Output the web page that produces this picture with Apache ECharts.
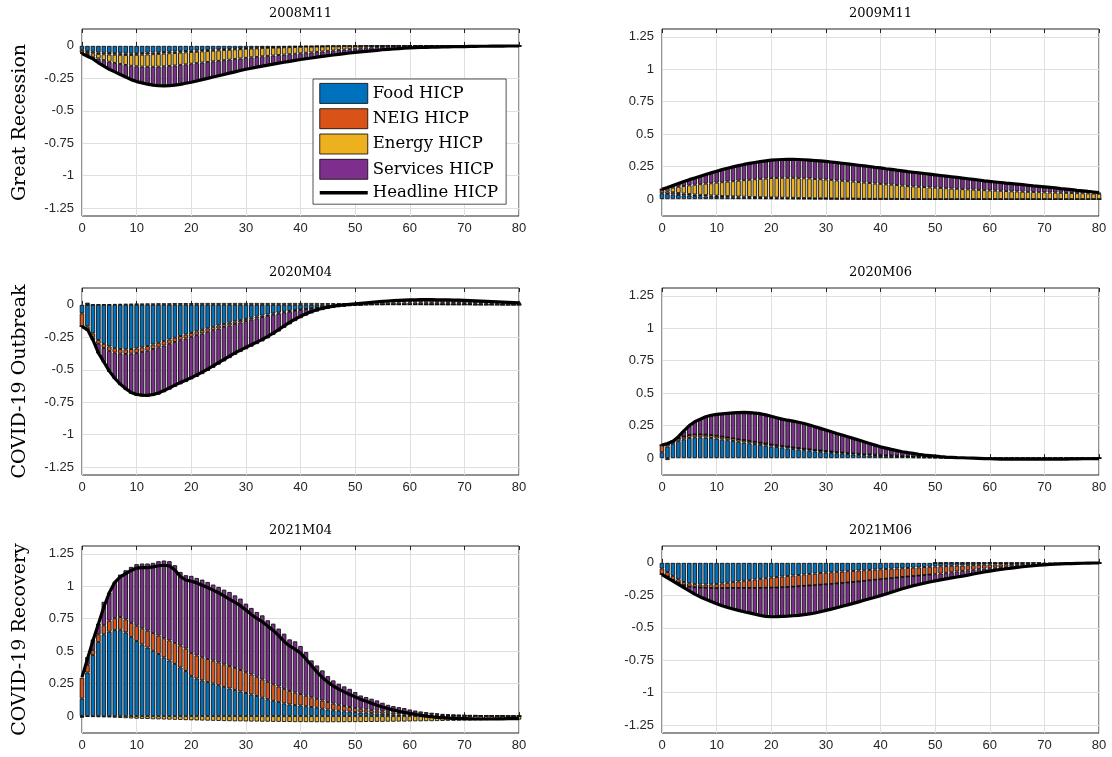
<!DOCTYPE html>
<html>
<head>
<meta charset="utf-8">
<script src="https://cdn.jsdelivr.net/npm/echarts@6/dist/echarts.min.js"></script>
<style>html,body{margin:0;padding:0;background:#fff;}#chart{width:1112px;height:757px;}</style>
</head>
<body>
<div id="chart"></div>
<script>
// ---------- categories / labels ----------
const HORIZONS = Array.from({length: 81}, (_, i) => i);
const PANEL_TITLES = ['2008M11', '2009M11', '2020M04', '2020M06', '2021M04', '2021M06'];
const ROW_LABELS = ['Great Recession', 'COVID-19 Outbreak', 'COVID-19 Recovery'];
const SERIES_NAMES = ['Food HICP', 'NEIG HICP', 'Energy HICP', 'Services HICP', 'Headline HICP'];
const Y_TICKS_NEG = [-1.25, -1, -0.75, -0.5, -0.25, 0];
const Y_TICKS_POS = [0, 0.25, 0.5, 0.75, 1, 1.25];

// ---------- 2008M11 ----------
const food_2008M11 = [
-0.03,-0.04,-0.045,-0.05,-0.053,-0.055,-0.056,-0.057,-0.057,-0.057,
-0.056,-0.055,-0.053,-0.051,-0.049,-0.047,-0.045,-0.043,-0.041,-0.039,
-0.037,-0.035,-0.033,-0.031,-0.029,-0.027,-0.025,-0.023,-0.021,-0.019,
-0.017,-0.015,-0.014,-0.012,-0.011,-0.01,-0.009,-0.008,-0.007,-0.006,
-0.005,-0.004,-0.004,-0.003,-0.003,-0.002,-0.002,-0.002,-0.001,-0.001,
-0.001,-0.001,0,0,0,0,0,0,0,0,
0,0,0,0,0,0,0,0,0,0,
0,0,0,0,0,0,0,0,0,0,
0];
const neig_2008M11 = [
-0.02,-0.015,-0.013,-0.012,-0.012,-0.012,-0.012,-0.012,-0.013,-0.013,
-0.013,-0.013,-0.013,-0.013,-0.013,-0.012,-0.012,-0.012,-0.011,-0.011,
-0.01,-0.01,-0.009,-0.009,-0.008,-0.008,-0.007,-0.007,-0.006,-0.006,
-0.005,-0.005,-0.005,-0.004,-0.004,-0.004,-0.003,-0.003,-0.003,-0.003,
-0.002,-0.002,-0.002,-0.002,-0.002,-0.001,-0.001,-0.001,-0.001,-0.001,
-0.001,0,0,0,0,0,0,0,0,0,
0,0,0,0,0,0,0,0,0,0,
0,0,0,0,0,0,0,0,0,0,
0];
const energy_2008M11 = [
-0.005,-0.015,-0.025,-0.035,-0.045,-0.055,-0.063,-0.07,-0.077,-0.083,
-0.088,-0.092,-0.095,-0.097,-0.098,-0.098,-0.097,-0.096,-0.094,-0.092,
-0.09,-0.088,-0.086,-0.084,-0.082,-0.08,-0.078,-0.076,-0.074,-0.072,
-0.07,-0.068,-0.066,-0.064,-0.062,-0.06,-0.058,-0.056,-0.054,-0.052,
-0.05,-0.047,-0.044,-0.041,-0.038,-0.035,-0.032,-0.029,-0.026,-0.023,
-0.02,-0.017,-0.014,-0.011,-0.008,-0.005,-0.003,-0.001,0.001,0.002,
0.002,0.002,0.002,0.002,0.001,0.001,0.001,0.001,0.001,0,
0,0,0,0,0,0,0,0,0,0,
0];
const services_2008M11 = [
-0.005,-0.01,-0.017,-0.033,-0.045,-0.058,-0.069,-0.081,-0.093,-0.107,
-0.118,-0.125,-0.134,-0.141,-0.146,-0.151,-0.152,-0.151,-0.15,-0.146,
-0.143,-0.137,-0.132,-0.126,-0.121,-0.115,-0.11,-0.104,-0.099,-0.093,
-0.088,-0.084,-0.079,-0.076,-0.071,-0.066,-0.063,-0.059,-0.055,-0.051,
-0.048,-0.046,-0.043,-0.041,-0.038,-0.037,-0.035,-0.033,-0.032,-0.03,
-0.028,-0.028,-0.028,-0.027,-0.026,-0.025,-0.024,-0.023,-0.022,-0.02,
-0.018,-0.016,-0.014,-0.013,-0.011,-0.01,-0.008,-0.007,-0.006,-0.005,
-0.005,-0.004,-0.004,-0.003,-0.003,-0.002,-0.002,-0.002,-0.001,-0.001,
-0.001];
const headline_2008M11 = [
-0.06,-0.08,-0.1,-0.13,-0.155,-0.18,-0.2,-0.22,-0.24,-0.26,
-0.275,-0.285,-0.295,-0.302,-0.306,-0.308,-0.306,-0.302,-0.296,-0.288,
-0.28,-0.27,-0.26,-0.25,-0.24,-0.23,-0.22,-0.21,-0.2,-0.19,
-0.18,-0.172,-0.164,-0.156,-0.148,-0.14,-0.133,-0.126,-0.119,-0.112,
-0.105,-0.099,-0.093,-0.087,-0.081,-0.075,-0.07,-0.065,-0.06,-0.055,
-0.05,-0.046,-0.042,-0.038,-0.034,-0.03,-0.027,-0.024,-0.021,-0.018,
-0.016,-0.014,-0.012,-0.011,-0.01,-0.009,-0.008,-0.007,-0.006,-0.005,
-0.005,-0.004,-0.004,-0.003,-0.003,-0.002,-0.002,-0.002,-0.001,-0.001,
-0.001];

// ---------- 2009M11 ----------
const food_2009M11 = [
0.045,0.04,0.036,0.032,0.029,0.026,0.024,0.022,0.02,0.018,
0.017,0.015,0.014,0.013,0.012,0.011,0.01,0.009,0.008,0.007,
0.007,0.006,0.006,0.005,0.005,0.004,0.004,0.004,0.003,0.003,
0.003,0.002,0.002,0.002,0.002,0.002,0.001,0.001,0.001,0.001,
0.001,0.001,0.001,0.001,0.001,0,0,0,0,0,
0,0,0,0,0,0,0,0,0,0,
0,0,0,0,0,0,0,0,0,0,
0,0,0,0,0,0,0,0,0,0,
0];
const neig_2009M11 = [
0.026,0.02,0.017,0.015,0.014,0.013,0.012,0.011,0.011,0.01,
0.01,0.009,0.009,0.008,0.008,0.008,0.007,0.007,0.007,0.006,
0.006,0.006,0.005,0.005,0.005,0.004,0.004,0.004,0.003,0.003,
0.003,0.003,0.002,0.002,0.002,0.002,0.002,0.001,0.001,0.001,
0.001,0.001,0.001,0.001,0,0,0,0,0,0,
0,0,0,0,0,0,0,0,0,0,
0,0,0,0,0,0,0,0,0,0,
0,0,0,0,0,0,0,0,0,0,
0];
const energy_2009M11 = [
0.005,0.02,0.035,0.048,0.058,0.067,0.075,0.082,0.088,0.094,
0.1,0.106,0.112,0.117,0.122,0.127,0.132,0.137,0.141,0.145,
0.149,0.151,0.153,0.154,0.154,0.153,0.152,0.151,0.149,0.147,
0.145,0.143,0.14,0.137,0.134,0.131,0.128,0.125,0.122,0.118,
0.115,0.112,0.109,0.106,0.103,0.1,0.098,0.095,0.093,0.09,
0.088,0.086,0.084,0.081,0.079,0.077,0.075,0.073,0.071,0.069,
0.067,0.065,0.064,0.062,0.06,0.059,0.057,0.056,0.055,0.053,
0.052,0.051,0.05,0.049,0.048,0.047,0.046,0.045,0.044,0.043,
0.042];
const services_2009M11 = [
0,0.01,0.019,0.028,0.037,0.045,0.054,0.063,0.071,0.08,
0.088,0.095,0.102,0.109,0.115,0.12,0.125,0.129,0.132,0.135,
0.138,0.14,0.142,0.143,0.144,0.144,0.143,0.142,0.141,0.14,
0.139,0.137,0.136,0.134,0.133,0.131,0.129,0.128,0.126,0.125,
0.123,0.12,0.118,0.115,0.113,0.11,0.108,0.106,0.103,0.101,
0.099,0.096,0.093,0.091,0.088,0.085,0.082,0.079,0.075,0.072,
0.069,0.066,0.064,0.061,0.059,0.056,0.053,0.05,0.048,0.045,
0.042,0.039,0.036,0.032,0.029,0.026,0.022,0.019,0.015,0.012,
0.008];
const headline_2009M11 = [
0.076,0.09,0.105,0.12,0.135,0.15,0.163,0.176,0.189,0.202,
0.215,0.227,0.238,0.248,0.258,0.267,0.275,0.282,0.289,0.295,
0.3,0.303,0.305,0.306,0.306,0.305,0.303,0.3,0.297,0.294,
0.29,0.286,0.281,0.276,0.271,0.266,0.261,0.256,0.251,0.245,
0.24,0.234,0.229,0.223,0.218,0.212,0.207,0.202,0.197,0.192,
0.187,0.182,0.177,0.172,0.167,0.162,0.157,0.152,0.147,0.141,
0.136,0.132,0.128,0.123,0.119,0.115,0.111,0.107,0.102,0.098,
0.094,0.09,0.086,0.081,0.077,0.073,0.068,0.064,0.059,0.055,
0.05];

// ---------- 2020M04 ----------
const food_2020M04 = [
-0.065,-0.165,-0.22,-0.27,-0.3,-0.32,-0.333,-0.34,-0.342,-0.34,
-0.335,-0.327,-0.317,-0.305,-0.292,-0.279,-0.266,-0.253,-0.24,-0.228,
-0.216,-0.204,-0.192,-0.18,-0.169,-0.158,-0.147,-0.137,-0.127,-0.117,
-0.108,-0.099,-0.09,-0.082,-0.074,-0.066,-0.059,-0.052,-0.046,-0.04,
-0.035,-0.03,-0.025,-0.021,-0.017,-0.013,-0.01,-0.007,-0.004,-0.002,
0,0.001,0.002,0.003,0.004,0.004,0.005,0.005,0.005,0.005,
0.005,0.005,0.005,0.004,0.004,0.004,0.004,0.003,0.003,0.003,
0.003,0.003,0.002,0.002,0.002,0.002,0.002,0.001,0.001,0.001,
0.001];
const neig_2020M04 = [
-0.1,-0.035,-0.03,-0.03,-0.032,-0.034,-0.035,-0.036,-0.036,-0.036,
-0.036,-0.036,-0.036,-0.035,-0.035,-0.034,-0.034,-0.033,-0.032,-0.031,
-0.03,-0.029,-0.028,-0.027,-0.026,-0.024,-0.023,-0.021,-0.02,-0.018,
-0.017,-0.015,-0.014,-0.012,-0.011,-0.01,-0.008,-0.007,-0.006,-0.005,
-0.004,-0.003,-0.003,-0.002,-0.002,-0.001,-0.001,0,0,0,
0,0,0,0,0,0,0,0,0,0,
0,0,0,0,0,0,0,0,0,0,
0,0,0,0,0,0,0,0,0,0,
0];
const energy_2020M04 = [
0,0.002,0.003,0.004,0.005,0.006,0.007,0.008,0.009,0.01,
0.011,0.011,0.012,0.012,0.013,0.013,0.013,0.014,0.014,0.014,
0.014,0.015,0.015,0.015,0.015,0.015,0.015,0.015,0.015,0.015,
0.015,0.015,0.015,0.015,0.015,0.015,0.015,0.015,0.015,0.015,
0.015,0.015,0.015,0.015,0.014,0.014,0.014,0.014,0.014,0.014,
0.014,0.014,0.014,0.013,0.013,0.013,0.013,0.013,0.013,0.013,
0.013,0.013,0.012,0.012,0.012,0.012,0.012,0.012,0.012,0.012,
0.011,0.011,0.011,0.011,0.011,0.011,0.011,0.011,0.011,0.011,
0.011];
const services_2020M04 = [
-0.002,0.015,-0.023,-0.074,-0.113,-0.162,-0.204,-0.242,-0.276,-0.309,
-0.33,-0.343,-0.356,-0.362,-0.364,-0.36,-0.353,-0.346,-0.34,-0.335,
-0.328,-0.322,-0.313,-0.302,-0.29,-0.278,-0.265,-0.252,-0.238,-0.228,
-0.217,-0.208,-0.198,-0.187,-0.173,-0.156,-0.138,-0.118,-0.098,-0.08,
-0.064,-0.05,-0.038,-0.029,-0.021,-0.017,-0.013,-0.011,-0.01,-0.008,
-0.006,-0.003,0,0.004,0.007,0.01,0.012,0.015,0.017,0.019,
0.02,0.021,0.023,0.023,0.024,0.023,0.023,0.022,0.022,0.021,
0.021,0.019,0.018,0.016,0.014,0.012,0.01,0.009,0.007,0.005,
0.003];
const headline_2020M04 = [
-0.167,-0.19,-0.27,-0.37,-0.44,-0.51,-0.565,-0.61,-0.645,-0.675,
-0.69,-0.695,-0.697,-0.69,-0.678,-0.66,-0.64,-0.618,-0.598,-0.58,
-0.56,-0.54,-0.518,-0.494,-0.47,-0.445,-0.42,-0.395,-0.37,-0.348,
-0.327,-0.307,-0.287,-0.266,-0.243,-0.217,-0.19,-0.162,-0.135,-0.11,
-0.088,-0.068,-0.051,-0.037,-0.026,-0.017,-0.01,-0.004,0,0.004,
0.008,0.012,0.016,0.02,0.024,0.027,0.03,0.033,0.035,0.037,
0.038,0.039,0.04,0.04,0.04,0.039,0.039,0.038,0.037,0.036,
0.035,0.033,0.031,0.029,0.027,0.025,0.023,0.021,0.019,0.017,
0.015];

// ---------- 2020M06 ----------
const food_2020M06 = [
0.045,0.09,0.11,0.13,0.145,0.155,0.16,0.16,0.158,0.155,
0.15,0.144,0.138,0.132,0.126,0.12,0.114,0.108,0.102,0.096,
0.09,0.085,0.08,0.075,0.07,0.065,0.061,0.057,0.052,0.048,
0.044,0.04,0.037,0.034,0.031,0.028,0.025,0.022,0.02,0.018,
0.016,0.014,0.012,0.011,0.009,0.008,0.007,0.006,0.005,0.004,
0.003,0.003,0.002,0.002,0.001,0.001,0,0,0,0,
0,0,0,0,0,0,0,0,0,0,
0,0,0,0,0,0,0,0,0,0,
0];
const neig_2020M06 = [
0.055,0.02,0.02,0.022,0.022,0.023,0.023,0.023,0.023,0.023,
0.022,0.022,0.021,0.021,0.02,0.02,0.019,0.018,0.017,0.016,
0.015,0.015,0.014,0.014,0.013,0.013,0.012,0.012,0.011,0.011,
0.01,0.01,0.009,0.009,0.008,0.008,0.007,0.007,0.007,0.006,
0.006,0.006,0.005,0.005,0.005,0.004,0.004,0.004,0.003,0.003,
0.003,0.002,0.002,0.002,0.001,0.001,0.001,0.001,0,0,
0,0,0,0,0,0,0,0,0,0,
0,0,0,0,0,0,0,0,0,0,
0];
const energy_2020M06 = [
0,0,0,0,0,0,0,0,0,0,
0,0,0,0,0,0,0,0,0,0,
0,0,0,0,0,0,0,0,0,0,
0.001,0.001,0.001,0.002,0.002,0.002,0.002,0.002,0.003,0.003,
0.003,0.003,0.003,0.003,0.003,0.003,0.003,0.003,0.003,0.003,
0.003,0.003,0.002,0.002,0.002,0.002,0.002,0.001,0.001,0.001,
0,0,0,0,0,0,0,0,0,0,
0,0,0,0,0,0,0,0,0,0,
0];
const services_2020M06 = [
0,-0.015,0,0.012,0.04,0.07,0.095,0.115,0.135,0.15,
0.165,0.177,0.188,0.197,0.204,0.21,0.212,0.214,0.215,0.214,
0.212,0.209,0.205,0.203,0.2,0.195,0.19,0.183,0.175,0.168,
0.16,0.153,0.145,0.135,0.125,0.117,0.108,0.098,0.088,0.078,
0.068,0.059,0.05,0.042,0.035,0.029,0.024,0.019,0.014,0.011,
0.008,0.005,0.003,0.001,0,-0.002,-0.003,-0.004,-0.005,-0.006,
-0.006,-0.007,-0.007,-0.008,-0.008,-0.008,-0.008,-0.008,-0.008,-0.008,
-0.008,-0.008,-0.007,-0.007,-0.007,-0.006,-0.006,-0.005,-0.005,-0.005,
-0.004];
const headline_2020M06 = [
0.1,0.113,0.13,0.165,0.21,0.25,0.28,0.3,0.318,0.33,
0.337,0.341,0.345,0.349,0.351,0.352,0.35,0.347,0.342,0.333,
0.322,0.311,0.3,0.292,0.285,0.276,0.267,0.255,0.242,0.229,
0.216,0.203,0.19,0.178,0.165,0.152,0.139,0.126,0.113,0.1,
0.087,0.077,0.067,0.058,0.049,0.042,0.036,0.029,0.023,0.019,
0.015,0.011,0.008,0.006,0.004,0.003,0.001,0,-0.002,-0.004,
-0.005,-0.006,-0.007,-0.008,-0.008,-0.008,-0.008,-0.008,-0.008,-0.008,
-0.008,-0.008,-0.007,-0.007,-0.007,-0.006,-0.006,-0.005,-0.005,-0.005,
-0.004];

// ---------- 2021M04 ----------
const food_2021M04 = [
0.135,0.335,0.47,0.57,0.63,0.65,0.662,0.665,0.645,0.61,
0.578,0.552,0.528,0.503,0.478,0.452,0.428,0.402,0.375,0.348,
0.31,0.29,0.275,0.262,0.25,0.238,0.225,0.213,0.202,0.19,
0.178,0.167,0.155,0.142,0.13,0.118,0.108,0.098,0.09,0.085,
0.082,0.076,0.07,0.064,0.057,0.051,0.045,0.041,0.037,0.034,
0.031,0.028,0.026,0.023,0.021,0.018,0.016,0.014,0.012,0.011,
0.01,0.009,0.008,0.007,0.006,0.005,0.004,0.004,0.003,0.003,
0.002,0.002,0.002,0.001,0.001,0.001,0.001,0.001,0,0,
0];
const neig_2021M04 = [
0.16,0.06,0.04,0.06,0.07,0.085,0.092,0.098,0.1,0.108,
0.118,0.124,0.13,0.136,0.142,0.148,0.155,0.162,0.168,0.172,
0.175,0.177,0.178,0.178,0.177,0.176,0.174,0.172,0.169,0.165,
0.16,0.154,0.148,0.141,0.134,0.127,0.12,0.112,0.104,0.096,
0.088,0.081,0.075,0.069,0.063,0.057,0.051,0.046,0.041,0.036,
0.032,0.029,0.026,0.023,0.021,0.019,0.017,0.015,0.013,0.012,
0.011,0.01,0.009,0.008,0.007,0.006,0.005,0.004,0.004,0.003,
0.003,0.002,0.002,0.002,0.001,0.001,0.001,0.001,0.001,0,
0];
const energy_2021M04 = [
-0.005,-0.006,-0.007,-0.008,-0.009,-0.01,-0.012,-0.014,-0.016,-0.018,
-0.02,-0.021,-0.022,-0.024,-0.025,-0.026,-0.027,-0.028,-0.029,-0.031,
-0.032,-0.033,-0.034,-0.035,-0.036,-0.037,-0.038,-0.039,-0.04,-0.04,
-0.041,-0.042,-0.042,-0.043,-0.043,-0.044,-0.044,-0.045,-0.045,-0.046,
-0.046,-0.046,-0.046,-0.047,-0.047,-0.047,-0.047,-0.047,-0.046,-0.046,
-0.046,-0.046,-0.045,-0.045,-0.044,-0.044,-0.043,-0.043,-0.042,-0.042,
-0.041,-0.04,-0.04,-0.039,-0.039,-0.038,-0.037,-0.036,-0.036,-0.035,
-0.034,-0.033,-0.032,-0.032,-0.031,-0.03,-0.03,-0.029,-0.028,-0.028,
-0.027];
const services_2021M04 = [
-0.005,0.06,0.08,0.083,0.18,0.216,0.279,0.327,0.378,0.431,
0.474,0.499,0.517,0.541,0.573,0.598,0.61,0.598,0.567,0.565,
0.595,0.597,0.598,0.593,0.586,0.581,0.575,0.571,0.559,0.55,
0.528,0.512,0.499,0.493,0.474,0.467,0.446,0.425,0.397,0.395,
0.37,0.337,0.284,0.257,0.232,0.2,0.179,0.162,0.151,0.14,
0.122,0.102,0.095,0.088,0.079,0.066,0.054,0.048,0.044,0.039,
0.03,0.024,0.019,0.016,0.013,0.011,0.008,0.005,0.004,0.003,
0.003,0.003,0.003,0.002,0.002,0.002,0.002,0.002,0.002,0.002,
0.002];
const headline_2021M04 = [
0.3,0.44,0.58,0.71,0.84,0.95,1.03,1.072,1.098,1.122,
1.14,1.144,1.144,1.149,1.158,1.162,1.157,1.125,1.075,1.048,
1.039,1.026,1.008,0.99,0.97,0.95,0.926,0.9,0.875,0.85,
0.817,0.782,0.752,0.727,0.693,0.66,0.62,0.575,0.54,0.515,
0.485,0.44,0.39,0.34,0.298,0.262,0.232,0.208,0.187,0.167,
0.148,0.13,0.114,0.099,0.084,0.07,0.058,0.047,0.037,0.029,
0.021,0.013,0.006,0,-0.005,-0.009,-0.012,-0.015,-0.017,-0.019,
-0.02,-0.021,-0.022,-0.022,-0.022,-0.022,-0.021,-0.021,-0.02,-0.02,
-0.02];

// ---------- 2021M06 ----------
const food_2021M06 = [
-0.044,-0.07,-0.1,-0.126,-0.147,-0.157,-0.164,-0.167,-0.167,-0.165,
-0.162,-0.158,-0.153,-0.148,-0.143,-0.138,-0.133,-0.128,-0.123,-0.118,
-0.113,-0.109,-0.105,-0.101,-0.097,-0.093,-0.089,-0.085,-0.082,-0.078,
-0.075,-0.072,-0.069,-0.067,-0.064,-0.062,-0.059,-0.057,-0.054,-0.052,
-0.049,-0.047,-0.045,-0.043,-0.041,-0.039,-0.037,-0.035,-0.032,-0.03,
-0.028,-0.026,-0.025,-0.023,-0.021,-0.02,-0.018,-0.017,-0.015,-0.014,
-0.013,-0.012,-0.011,-0.01,-0.009,-0.008,-0.007,-0.007,-0.006,-0.006,
-0.005,-0.005,-0.004,-0.004,-0.003,-0.003,-0.002,-0.002,-0.002,-0.001,
-0.001];
const neig_2021M06 = [
-0.043,-0.035,-0.031,-0.026,-0.025,-0.026,-0.024,-0.023,-0.025,-0.028,
-0.032,-0.036,-0.04,-0.045,-0.05,-0.055,-0.06,-0.065,-0.07,-0.074,
-0.078,-0.081,-0.083,-0.085,-0.086,-0.087,-0.088,-0.089,-0.09,-0.09,
-0.09,-0.09,-0.089,-0.088,-0.087,-0.085,-0.084,-0.082,-0.08,-0.078,
-0.077,-0.075,-0.073,-0.07,-0.068,-0.066,-0.065,-0.063,-0.062,-0.06,
-0.059,-0.056,-0.052,-0.049,-0.045,-0.042,-0.039,-0.036,-0.033,-0.03,
-0.028,-0.025,-0.022,-0.02,-0.017,-0.015,-0.013,-0.012,-0.01,-0.009,
-0.008,-0.007,-0.006,-0.005,-0.004,-0.002,-0.002,-0.001,-0.001,0,
0];
const energy_2021M06 = [
0,0,0,0,0,0,0,0,0,0,
0,0,0,0,0,0,0,0,0,0,
0,0,0,0,0,0,0,0,0,0,
0,0,0,0,0,0,0,0,0,0,
0,0,0,0,0,0,0,0,0,0,
0.001,0.001,0.002,0.002,0.002,0.002,0.002,0.002,0.002,0.002,
0.002,0.002,0.002,0.002,0.001,0.001,0.001,0.001,0.001,0.001,
0,0,0,0,0,0,0,0,0,0,
0];
const services_2021M06 = [
-0.003,-0.01,-0.009,-0.013,-0.018,-0.032,-0.052,-0.072,-0.088,-0.105,
-0.121,-0.136,-0.15,-0.162,-0.173,-0.183,-0.192,-0.202,-0.212,-0.22,
-0.224,-0.224,-0.224,-0.224,-0.224,-0.224,-0.222,-0.219,-0.214,-0.208,
-0.201,-0.194,-0.187,-0.179,-0.172,-0.165,-0.157,-0.149,-0.142,-0.134,
-0.126,-0.117,-0.108,-0.099,-0.09,-0.082,-0.074,-0.068,-0.062,-0.057,
-0.052,-0.049,-0.046,-0.044,-0.043,-0.04,-0.037,-0.033,-0.03,-0.026,
-0.022,-0.02,-0.018,-0.015,-0.014,-0.012,-0.01,-0.007,-0.006,-0.003,
-0.002,-0.001,-0.001,0,0,0,0,0,0,0,
0];
const headline_2021M06 = [
-0.09,-0.115,-0.14,-0.165,-0.19,-0.215,-0.24,-0.262,-0.28,-0.298,
-0.315,-0.33,-0.343,-0.355,-0.366,-0.376,-0.385,-0.395,-0.405,-0.412,
-0.415,-0.414,-0.412,-0.41,-0.407,-0.404,-0.399,-0.393,-0.386,-0.376,
-0.366,-0.356,-0.345,-0.334,-0.323,-0.312,-0.3,-0.288,-0.276,-0.264,
-0.252,-0.239,-0.226,-0.212,-0.199,-0.187,-0.176,-0.166,-0.156,-0.147,
-0.139,-0.131,-0.123,-0.116,-0.109,-0.102,-0.094,-0.086,-0.078,-0.07,
-0.063,-0.057,-0.051,-0.045,-0.04,-0.035,-0.03,-0.026,-0.022,-0.018,
-0.015,-0.012,-0.01,-0.008,-0.006,-0.005,-0.004,-0.003,-0.002,-0.001,
-0.001];

// ---------- assembly ----------
const PANEL_DATA = [
  [food_2008M11, neig_2008M11, energy_2008M11, services_2008M11, headline_2008M11],
  [food_2009M11, neig_2009M11, energy_2009M11, services_2009M11, headline_2009M11],
  [food_2020M04, neig_2020M04, energy_2020M04, services_2020M04, headline_2020M04],
  [food_2020M06, neig_2020M06, energy_2020M06, services_2020M06, headline_2020M06],
  [food_2021M04, neig_2021M04, energy_2021M04, services_2021M04, headline_2021M04],
  [food_2021M06, neig_2021M06, energy_2021M06, services_2021M06, headline_2021M06]
];
const PANEL_NEGATIVE = [true, false, true, false, false, true];

// layout & style
const COLORS = ['#0072BD', '#D95319', '#EDB120', '#7E2F8E'];
const COL_LEFT = [82, 662];
const ROW_TOP = [29, 288, 546];
const GRID_W = 437, GRID_H = 187;
const SANS = '"Liberation Sans", Arial, Helvetica, sans-serif';
const SERIF = '"DejaVu Serif", "Liberation Serif", serif';
const TICK_COLOR = '#262626';

const grids = [], xAxes = [], yAxes = [], series = [], graphics = [];

for (let p = 0; p < 6; p++) {
  const col = p % 2, row = Math.floor(p / 2);
  grids.push({
    left: COL_LEFT[col], top: ROW_TOP[row], width: GRID_W, height: GRID_H,
    show: true, borderColor: TICK_COLOR, borderWidth: 1, backgroundColor: 'transparent'
  });
}
const xCommon = (p) => ({
  type: 'category', gridIndex: p, data: HORIZONS, boundaryGap: false,
  axisLine: { show: false }
});
const yRange = (p) => PANEL_NEGATIVE[p] ? { min: -1.31, max: 0.13, ticks: Y_TICKS_NEG }
                                        : { min: -0.13, max: 1.31, ticks: Y_TICKS_POS };
for (let p = 0; p < 6; p++) {
  xAxes.push(Object.assign(xCommon(p), {
    position: 'bottom',
    axisTick: { show: true, inside: true, length: 4, interval: 9, lineStyle: { color: TICK_COLOR } },
    axisLabel: { color: TICK_COLOR, fontFamily: SANS, fontSize: 13, margin: 6, interval: 9 },
    splitLine: { show: true, interval: 9, lineStyle: { color: '#dfdfdf', width: 1 } }
  }));
  const r = yRange(p);
  yAxes.push({
    type: 'value', gridIndex: p, min: r.min, max: r.max, position: 'left',
    axisLine: { show: false },
    axisTick: { show: false, customValues: r.ticks },
    axisLabel: { color: TICK_COLOR, fontFamily: SANS, fontSize: 13, margin: 8, customValues: r.ticks },
    splitLine: { show: true, lineStyle: { color: '#dfdfdf', width: 1 } }
  });
}
for (let p = 0; p < 6; p++) {
  xAxes.push(Object.assign(xCommon(p), {
    position: 'top',
    axisTick: { show: true, inside: true, length: 4, interval: 9, lineStyle: { color: TICK_COLOR } },
    axisLabel: { show: false }, splitLine: { show: false }
  }));
}

for (let p = 0; p < 6; p++) {
  const arrs = PANEL_DATA[p];
  for (let k = 0; k < 4; k++) {
    series.push({
      type: 'bar', name: SERIES_NAMES[k], xAxisIndex: p, yAxisIndex: p, stack: 'panel' + p,
      stackStrategy: 'samesign',
      barWidth: 4.5, animation: false, silent: true,
      itemStyle: { color: COLORS[k], borderColor: '#111', borderWidth: 0.9 },
      data: arrs[k]
    });
  }
  series.push({
    type: 'line', name: SERIES_NAMES[4], xAxisIndex: p, yAxisIndex: p, z: 5,
    symbol: 'none', animation: false, silent: true,
    lineStyle: { color: '#000', width: 3.2 }, itemStyle: { color: '#000' },
    data: arrs[4]
  });
  const col = p % 2, row = Math.floor(p / 2);
  graphics.push({
    type: 'text', x: COL_LEFT[col] + GRID_W / 2, y: ROW_TOP[row] - 15,
    style: { text: PANEL_TITLES[p], fill: '#000', font: '13px ' + SERIF, align: 'center', verticalAlign: 'middle' }
  });
}
for (let r = 0; r < 3; r++) {
  graphics.push({
    type: 'text', x: 20, y: ROW_TOP[r] + GRID_H / 2, rotation: Math.PI / 2,
    style: { text: ROW_LABELS[r], fill: '#000', font: '19px ' + SERIF, align: 'center', verticalAlign: 'middle' }
  });
}

const chart = echarts.init(document.getElementById('chart'), null, { renderer: 'canvas' });
chart.setOption({
  backgroundColor: '#fff',
  animation: false,
  grid: grids, xAxis: xAxes, yAxis: yAxes, series: series,
  legend: {
    selectedMode: false, orient: 'vertical', left: 313, top: 79,
    padding: [4, 8, 3, 5], itemGap: 4.5, itemWidth: 48, itemHeight: 20,
    backgroundColor: '#fff', borderColor: TICK_COLOR, borderWidth: 0.8,
    textStyle: { fontFamily: SERIF, fontSize: 16.5, color: '#000' },
    data: SERIES_NAMES.map((n, i) => i < 4
      ? { name: n, icon: 'rect', itemStyle: { color: COLORS[i], borderColor: '#000', borderWidth: 0.8 } }
      : { name: n, itemStyle: { opacity: 0 }, lineStyle: { color: '#000', width: 3.5 } })
  },
  graphic: graphics
});
</script>
</body>
</html>
